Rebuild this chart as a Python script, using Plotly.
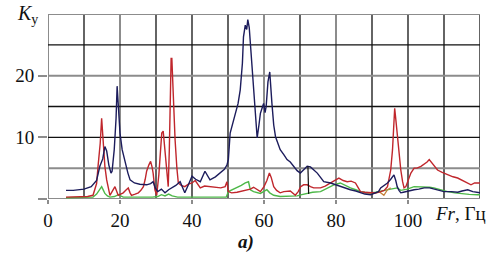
import plotly.graph_objects as go

# ---- data (frequency Fr, Hz ; coefficient K_y) ----
navy_pts = [(5,1.4),(7,1.4),(10,1.6),(12,2.0),(13.5,3.0),(14.4,5.3),(15.2,6.5),(15.8,8.5),(16.3,7.8),(16.9,5.5),
            (17.5,4.2),(17.8,4.5),(18.4,8),(18.9,13),(19.2,18.3),(19.6,15),(20,10.7),(20.6,8),(21.4,5.9),(22.2,4.2),
            (22.8,3.1),(24,2.6),(25.5,2.4),(27.4,2.3),(28.5,2.5),(29.2,2.8),(29.8,1.8),(30.5,1.2),(31.5,1.6),(32.5,1.0),
            (33.5,1.5),(34.5,1.8),(35.5,2.2),(36.7,2.8),(37.5,1.8),(38,1.0),(39,2.3),(40,3.7),(41,3.2),(42.3,2.8),
            (43.6,4.5),(44.3,3.8),(45,3.1),(46.5,3.6),(47.8,4.2),(49,4.8),(49.7,5.5),(50.1,6.4),(50.6,10.7),(51.2,12),
            (52,13.4),(52.8,15.5),(53.4,17.7),(54,22),(54.3,26.3),(54.8,28.2),(55.2,27.5),(55.5,29.1),(55.9,27.8),(56.2,25.2),
            (56.7,21),(57.1,17.2),(57.6,13),(58.1,9.9),(58.6,12),(59,13.9),(59.5,14.8),(59.9,15.5),(60.3,14),(60.6,15),
            (61.1,19),(61.6,20.6),(62.2,15.5),(62.7,12),(63.2,10.1),(64.5,8),(65.5,7.2),(66.4,6.4),(67.3,6.0),(68.2,5.3),
            (69.2,4.6),(70.1,4.2),(71,4.8),(72,5.3),(72.9,5.2),(73.8,4.7),(74.8,4.2),(75.7,3.5),(76.6,2.8),(78.5,2.6),
            (80,2.3),(81.2,2.0),(82.5,1.8),(84,1.5),(85.5,1.3),(86.8,1.0),(88,0.8),(89.6,0.7),(90.5,0.9),(91.8,1.2),
            (92.4,1.8),(93.4,2.2),(94.3,2.6),(95.2,3.2),(96.1,3.9),(96.6,3.0),(97,2.0),(97.5,1.4),(98,1.0),(98.7,1.1),
            (99.4,1.2),(100.5,1.4),(101.7,1.5),(103,1.6),(104.5,1.8),(106,1.8),(107.2,1.6),(108.5,1.4),(110,1.2),(112,1.2),
            (113.8,1.1),(115,1.3),(116.6,1.5),(118,1.2),(120,1.0)]

red_pts = [(5,0.3),(8,0.3),(11,0.4),(12.5,0.6),(13.5,2.5),(13.9,5.3),(14.5,9),(14.9,13.1),(15.3,9.6),(15.8,5.3),
           (16.3,3.1),(16.8,1.5),(17.2,0.6),(17.8,1.2),(18.6,2.0),(19.1,1.2),(19.5,0.6),(20.2,0.8),(20.9,1.0),(21.6,1.4),
           (22.3,1.8),(22.8,1.0),(23.2,0.6),(24.2,0.8),(25.1,1.0),(25.8,1.4),(26.5,2.0),(27,3.2),(27.4,4.5),(28,5.5),
           (28.5,6.1),(28.9,5.2),(29.2,4.2),(29.7,1.5),(30.2,0.6),(30.8,4),(31.3,9),(31.6,10.7),(32,11),(32.5,8.0),
           (33,4.5),(33.4,2.0),(33.7,8),(33.9,14.4),(34.2,22.8),(34.4,22.8),(34.8,16),(35.3,9.6),(35.8,5),(36.2,2.6),
           (37,2.2),(38,2.0),(39,2.4),(40,2.6),(40.9,3.0),(41.5,2.4),(42.3,1.8),(43.5,2.1),(45,2.0),(46.5,2.0),
           (48,1.8),(49.2,2.0),(49.7,2.8),(50.1,1.2),(51,1.0),(52.5,1.1),(54,1.3),(55.3,1.5),(56.2,1.6),(57.1,1.9),
           (58,1.5),(59,1.2),(60,2.0),(60.8,3.0),(61.5,4.2),(62,3.5),(62.7,2.0),(63.5,1.4),(64.5,1.0),(65.5,1.2),
           (67.3,1.3),(68,1.0),(68.7,0.6),(69.5,1.2),(70.2,2.0),(71,2.3),(72,2.3),(72.9,2.0),(73.8,1.8),(75.7,1.8),
           (77,2.1),(78.5,2.6),(79.8,3.0),(80.8,3.4),(82,3.0),(83.1,2.8),(84.2,2.9),(85.4,2.6),(86.2,1.8),(86.8,1.2),
           (88,1.1),(89.6,1.0),(91,1.0),(92.4,1.2),(93.4,1.4),(94.3,2.0),(95.2,4.7),(95.7,8),(96.1,12),(96.3,14.7),
           (96.6,13),(97,10.7),(97.5,7),(98,4.7),(98.5,2.8),(98.9,1.8),(99.4,2.0),(100,3.1),(100.8,4.2),(101.7,5.0),
           (102.5,5.0),(103.6,5.3),(104.5,5.6),(105.3,6.0),(105.9,6.4),(106.8,5.8),(107.5,5.2),(108.2,4.7),(109.5,4.3),(111,3.9),
           (112.5,3.6),(113.8,3.4),(114.7,3.1),(116,2.8),(117.5,2.3),(118.5,2.6),(120,2.6)]

green_pts = [(5,0.2),(10,0.2),(12.5,0.3),(13.5,0.8),(14.3,1.6),(14.9,2.0),(15.4,1.4),(15.8,0.9),(16.5,0.5),(17.2,0.3),
             (18.5,0.4),(19.5,0.7),(20.9,0.3),(25,0.25),(29,0.3),(30.5,0.4),(31.5,0.7),(32.5,0.5),(33.5,0.8),(34.5,0.5),
             (36,0.3),(40,0.3),(45,0.3),(49.5,0.3),(50.1,1.2),(51.2,1.5),(52.5,1.8),(53.7,2.2),(54.8,2.6),(55.7,2.8),
             (56.2,1.5),(57.1,1.2),(59,0.9),(60,1.2),(60.8,1.5),(61.6,1.0),(62.7,0.6),(64.5,0.4),(67,0.4),(69.2,0.5),
             (70.5,0.7),(72,0.9),(73.5,1.1),(75.7,1.2),(76.6,1.5),(78.5,2.0),(79.4,2.3),(81.2,2.6),(82.5,2.2),(84,1.8),
             (85.5,1.5),(86.8,1.2),(88,1.1),(89.6,1.0),(91,1.1),(92.4,1.2),(93.5,1.4),(95.2,1.6),(97,1.8),(98,1.4),
             (99.8,1.6),(101.7,2.0),(103,2.0),(104.5,1.9),(106,1.9),(107.2,1.8),(109,1.5),(111,1.2),(113,1.0),(114.7,0.85),
             (117,0.75),(119.3,0.7),(120,0.7)]

brown_pts = [(87.5,1.0),(89,0.9),(90.5,0.9),(92.2,1.1),(93.3,0.6),(94.3,1.5),(95.2,1.8)]

dark_pts = [(72.2,5.3),(72.4,0.8)]

x_ticks = [0, 20, 40, 60, 80, 100]
x_tick_labels = ["0", "20", "40", "60", "80", "100"]
y_ticks = [0, 10, 20]
y_tick_labels = [" ", "10", "20"]

FONT = "Liberation Serif"

fig = go.Figure()

def add_series(pts, color, width=1.4):
    xs = [p[0] for p in pts]
    ys = [p[1] for p in pts]
    fig.add_trace(go.Scatter(x=xs, y=ys, mode="lines",
                             line=dict(color=color, width=width),
                             showlegend=False, hoverinfo="skip"))

add_series(green_pts, "#4db848")
add_series(brown_pts, "#c4803a", 1.3)
add_series(red_pts, "#c0262c")
add_series(navy_pts, "#1c1c5c")
add_series(dark_pts, "#111111", 1.2)

# grid (thin black, some thicker grey lines as in the scan)
shapes = []
grey_x = {0, 20, 60, 80}
grey_y = {0, 5, 20, 30}
for gx in range(0, 121, 10):
    g = gx in grey_x
    shapes.append(dict(type="line", xref="x", yref="y", x0=gx, x1=gx, y0=0, y1=30, layer="below",
                       line=dict(color="#8c8c8c" if g else "#111111", width=2 if g else 1.3)))
for gy in range(0, 31, 5):
    g = gy in grey_y
    shapes.append(dict(type="line", xref="x", yref="y", x0=0, x1=120, y0=gy, y1=gy, layer="below",
                       line=dict(color="#8c8c8c" if g else "#111111", width=2 if g else 1.3)))

fig.update_layout(
    width=490, height=254,
    margin=dict(l=48, r=10, t=14, b=55),
    paper_bgcolor="white", plot_bgcolor="white",
    shapes=shapes,
    font=dict(family=FONT, size=19, color="#111111"),
    xaxis=dict(range=[0, 120], showgrid=False, zeroline=False, showline=False,
               tickmode="array", tickvals=x_ticks, ticktext=x_tick_labels,
               ticks="outside", ticklen=4, tickcolor="#8c8c8c", tickwidth=1.5,
               tickfont=dict(family=FONT, size=19, color="#111111")),
    yaxis=dict(range=[0, 30], showgrid=False, zeroline=False, showline=False,
               tickmode="array", tickvals=y_ticks, ticktext=y_tick_labels,
               ticks="outside", ticklen=9, tickcolor="#8c8c8c", tickwidth=2,
               tickfont=dict(family=FONT, size=19, color="#111111")),
    annotations=[
        dict(text="<i>K</i><sub>у</sub>", xref="paper", yref="paper", x=-0.047, y=0.995,
             xanchor="center", yanchor="middle", showarrow=False,
             font=dict(family=FONT, size=20, color="#111111")),
        dict(text="<i>Fr</i>, Гц", xref="paper", yref="paper", x=0.955, y=-0.081,
             xanchor="center", yanchor="middle", showarrow=False,
             font=dict(family=FONT, size=19, color="#111111")),
        dict(text="<b><i>a)</i></b>", xref="paper", yref="paper", x=0.458, y=-0.232,
             xanchor="center", yanchor="middle", showarrow=False,
             font=dict(family=FONT, size=19, color="#111111")),
    ],
)

fig.write_html("out.html", config={"displayModeBar": False},
               post_script="document.body.style.margin='0';document.body.style.padding='0';")
